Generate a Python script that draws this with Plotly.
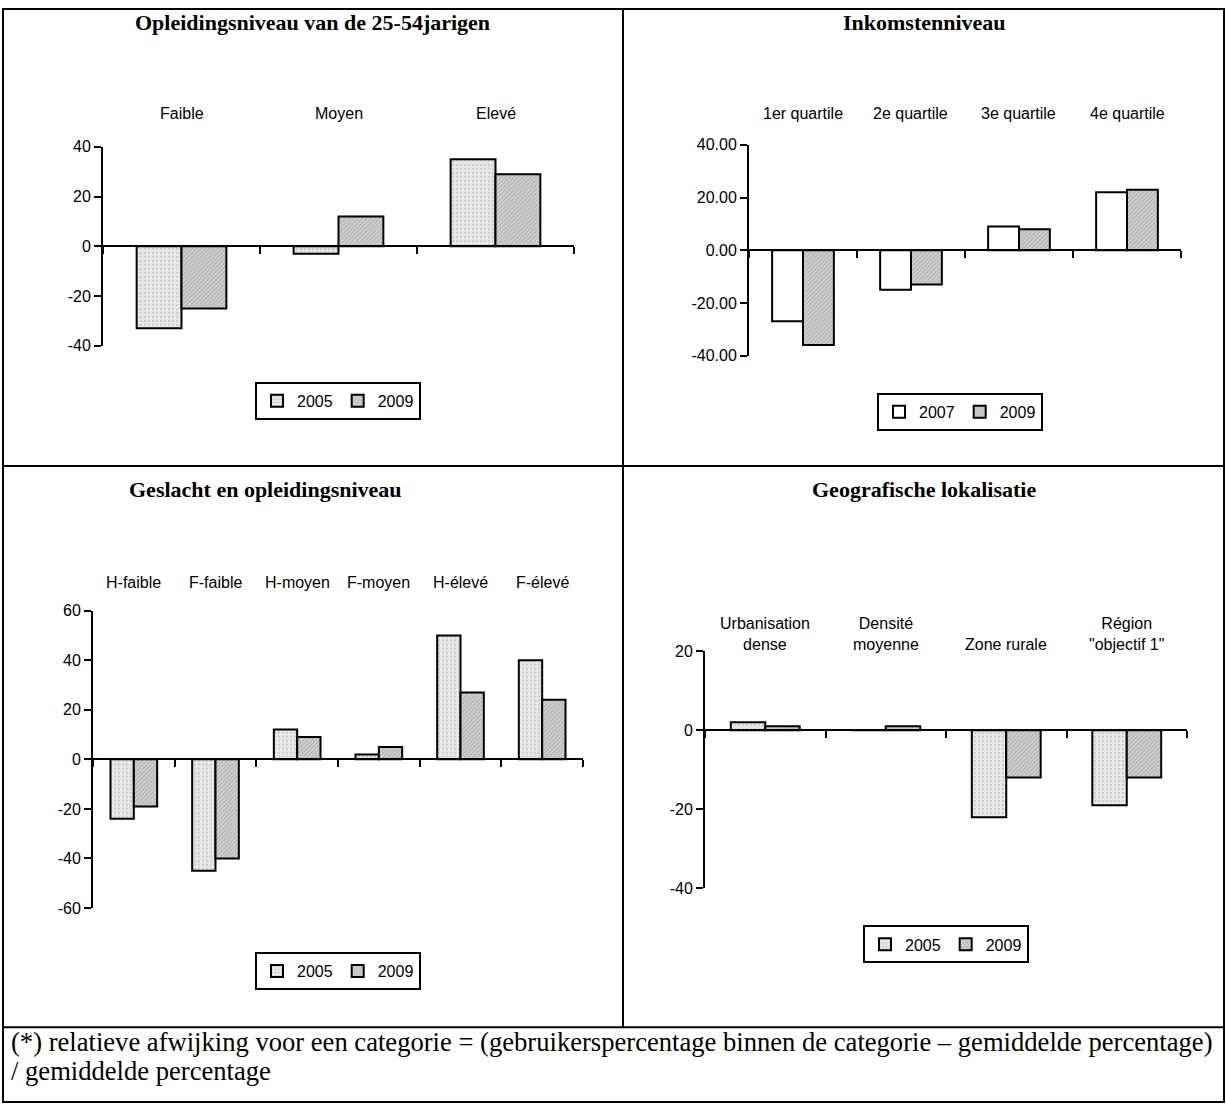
import plotly.graph_objects as go

W, H = 1226, 1113

# ---- data -------------------------------------------------------------
edu_cats = ["Faible", "Moyen", "Elevé"]
edu_2005 = [-33, -3, 35]
edu_2009 = [-25, 12, 29]

inc_cats = ["1er quartile", "2e quartile", "3e quartile", "4e quartile"]
inc_2007 = [-27, -15, 9, 22]
inc_2009 = [-36, -13, 8, 23]

sex_cats = ["H-faible", "F-faible", "H-moyen", "F-moyen", "H-élevé", "F-élevé"]
sex_2005 = [-24, -45, 12, 2, 50, 40]
sex_2009 = [-19, -40, 9, 5, 27, 24]

geo_cats = ["Urbanisation<br>dense", "Densité<br>moyenne", "Zone rurale", "Région<br>\"objectif 1\""]
geo_2005 = [2, 0, -22, -19]
geo_2009 = [1, 1, -12, -12]

titles = ["Opleidingsniveau van de 25-54jarigen", "Inkomstenniveau",
          "Geslacht en opleidingsniveau", "Geografische lokalisatie"]
footnote = ["(*) relatieve afwijking voor een categorie = (gebruikerspercentage binnen de categorie – gemiddelde percentage)",
            "/ gemiddelde percentage"]

# ---- styles -----------------------------------------------------------
SANS = "Liberation Sans, Arial"
SERIF = "Liberation Serif, Times New Roman, serif"

dotted = dict(color="#e4e4e4", line=dict(color="black", width=2),
              pattern=dict(shape=".", bgcolor="#e8e8e8", fgcolor="#b4b4b4", size=4, solidity=0.35))
hatched = dict(color="#c4c4c4", line=dict(color="black", width=2),
               pattern=dict(shape="/", bgcolor="#d0d0d0", fgcolor="#8c8c8c", size=3, solidity=0.35))
blank = dict(color="white", line=dict(color="black", width=2))

# pixel boxes of each plot area: (left, top, right, bottom)
panels = [
    dict(cats=edu_cats, series=[("2005", edu_2005, dotted), ("2009", edu_2009, hatched)],
         rng=[-40, 40], dtick=20, decimals=0, box=(103, 141, 574, 343),
         legend=(338, 399), title_xy=(313, 15), label_y=118),
    dict(cats=inc_cats, series=[("2007", inc_2007, blank), ("2009", inc_2009, hatched)],
         rng=[-40, 40], dtick=20, decimals=2, box=(749, 139, 1181, 353),
         legend=(960, 410), title_xy=(924, 15), label_y=118),
    dict(cats=sex_cats, series=[("2005", sex_2005, dotted), ("2009", sex_2009, hatched)],
         rng=[-60, 60], dtick=20, decimals=0, box=(93, 612, 583, 914),
         legend=(338, 978), title_xy=(265, 489), label_y=594),
    dict(cats=geo_cats, series=[("2005", geo_2005, dotted), ("2009", geo_2009, hatched)],
         rng=[-40, 20], dtick=20, decimals=0, box=(705, 653, 1187, 894),
         legend=(946, 951), title_xy=(924, 489), label_y=657),
]


def px(x):
    return x / W


def py(y):
    return 1 - y / H


def tick_text(v, decimals):
    # plain hyphen for negatives, as in the printed report
    return f"{v:.{decimals}f}".replace("\u2212", "-")


fig = go.Figure()
layout = {}
annotations = []

for i, p in enumerate(panels, start=1):
    sfx = "" if i == 1 else str(i)
    xa, ya = "x" + sfx, "y" + sfx
    lg = "legend" + sfx
    left, top, right, bottom = p["box"]

    for name, vals, style in p["series"]:
        fig.add_trace(go.Bar(x=p["cats"], y=vals, name=name, marker=style,
                             xaxis=xa, yaxis=ya, legend=lg, showlegend=True))

    y0, y1 = py(bottom), py(top)
    lo, hi = p["rng"]
    zero_pos = y0 + (0 - lo) / (hi - lo) * (y1 - y0)
    tvals = list(range(lo, hi + 1, p["dtick"]))

    layout["xaxis" + sfx] = dict(
        domain=[px(left), px(right)], anchor="free", position=zero_pos,
        type="category", categoryarray=p["cats"], categoryorder="array",
        showline=True, linecolor="black", linewidth=2,
        ticks="outside", tickson="boundaries", ticklen=7, tickwidth=2, tickcolor="black",
        showticklabels=False, showgrid=False, zeroline=False, fixedrange=True,
    )
    layout["yaxis" + sfx] = dict(
        domain=[y0, y1], anchor=xa, range=p["rng"],
        tickmode="array", tickvals=tvals, ticktext=[tick_text(v, p["decimals"]) for v in tvals],
        showline=True, linecolor="black", linewidth=2,
        ticks="outside", ticklen=7, tickwidth=2, tickcolor="black",
        tickfont=dict(family=SANS, size=16, color="black"),
        showgrid=False, zeroline=False, fixedrange=True,
    )
    lx, ly = p["legend"]
    layout[lg] = dict(
        x=px(lx), y=py(ly), xanchor="center", yanchor="middle", orientation="h",
        bgcolor="white", bordercolor="black", borderwidth=2,
        font=dict(family=SANS, size=16, color="black"),
        itemwidth=30, tracegroupgap=0, traceorder="normal",
    )

    # category names sit above the plot area, bottom-aligned
    for c in p["cats"]:
        annotations.append(dict(
            x=c, xref=xa, y=py(p["label_y"]), yref="paper", text=c, showarrow=False,
            xanchor="center", yanchor="bottom", align="center",
            font=dict(family=SANS, size=16, color="black"),
        ))
    tx, ty = p["title_xy"]
    annotations.append(dict(
        x=px(tx), y=py(ty), xref="paper", yref="paper", text="<b>" + titles[i - 1] + "</b>",
        showarrow=False, xanchor="center", yanchor="middle",
        font=dict(family=SERIF, size=22, color="black"),
    ))

for k, line in enumerate(footnote):
    annotations.append(dict(
        x=px(9), y=py(1050 + 29 * k), xref="paper", yref="paper", text=line, showarrow=False,
        xanchor="left", yanchor="middle", font=dict(family=SERIF, size=26.6, color="black"),
    ))

# panel frames
frame = dict(type="line", xref="paper", yref="paper", line=dict(color="black", width=2))
shapes = [
    dict(type="rect", xref="paper", yref="paper", x0=px(3), y0=py(1111), x1=px(1224), y1=py(1),
         line=dict(color="black", width=2)),
    dict(frame, x0=px(623), x1=px(623), y0=py(1), y1=py(1035)),
    dict(frame, x0=px(3), x1=px(1224), y0=py(465), y1=py(465)),
    dict(frame, x0=px(3), x1=px(1224), y0=py(1035), y1=py(1035)),
]

fig.update_layout(
    width=W, height=H, margin=dict(l=0, r=0, t=0, b=0),
    paper_bgcolor="white", plot_bgcolor="rgba(0,0,0,0)",
    barmode="group", bargap=1.5 / 3.5, bargroupgap=0,
    annotations=annotations, shapes=shapes, **layout,
)

fig.write_html("out.html")
